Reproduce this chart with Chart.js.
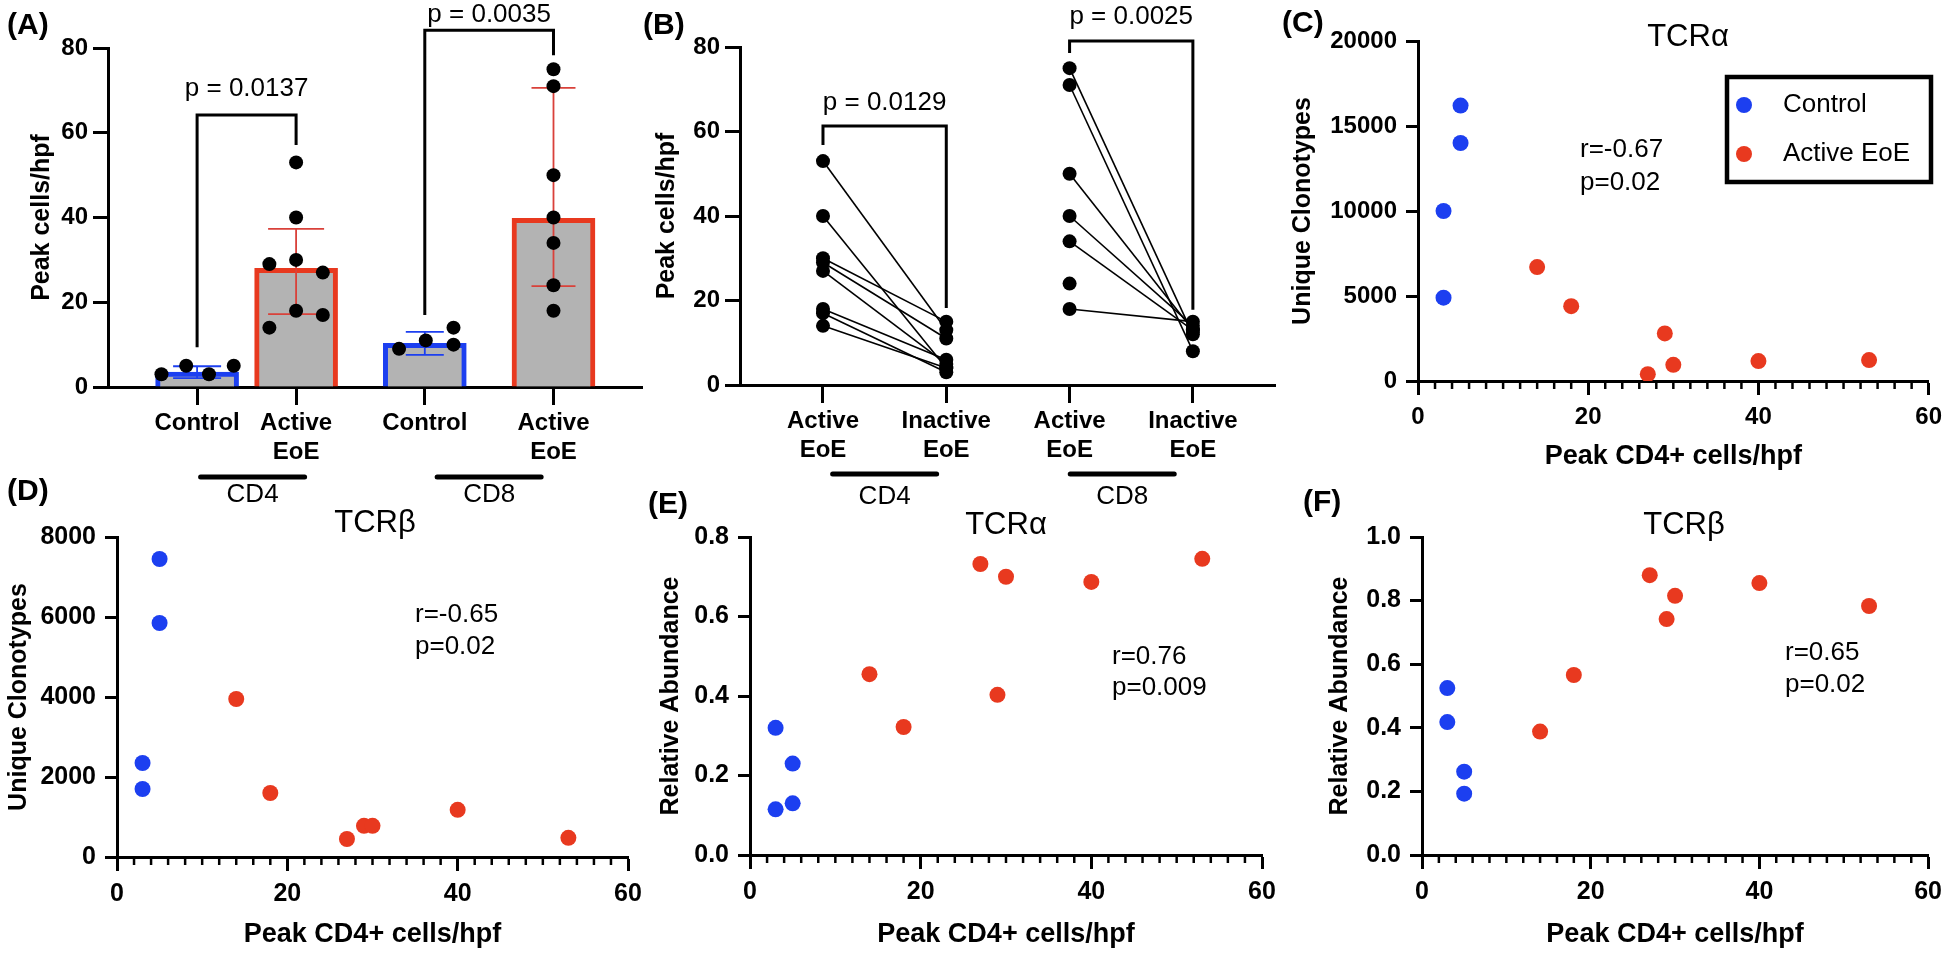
<!DOCTYPE html>
<html>
<head>
<meta charset="utf-8">
<script src="https://cdn.jsdelivr.net/npm/chart.js@4/dist/chart.umd.min.js"></script>
<style>
html, body { margin: 0; padding: 0; background: #fff; width: 1950px; height: 978px; overflow: hidden; }
canvas { position: absolute; }
</style>
</head>
<body>
<canvas id="cA"></canvas>
<canvas id="cB"></canvas>
<canvas id="cC"></canvas>
<canvas id="cD"></canvas>
<canvas id="cE"></canvas>
<canvas id="cF"></canvas>
<script>
// ================= DATA =================
// Panel A – bar chart with individual points
const barCategories = [['Control'], ['Active', 'EoE'], ['Control'], ['Active', 'EoE']];
const barGroupLabels = ['CD4', 'CD8'];
const barMeans   = [3.5, 28, 10.3, 39.8];
const barErrLow  = [2.1, 17.2, 7.6, 23.8];
const barErrHigh = [4.9, 37.3, 13.0, 70.6];
const cd4ControlPeak = [3, 5, 3, 5];
const cd4ActivePeak  = [53, 40, 29, 30, 27, 18, 17, 14];
const cd8ControlPeak = [9, 11, 14, 10];
const cd8ActivePeak  = [75, 71, 50, 40, 34, 24, 18];
const barPValues = ['p = 0.0137', 'p = 0.0035'];

// Panel B – paired active / inactive
const pairCategories = [['Active', 'EoE'], ['Inactive', 'EoE'], ['Active', 'EoE'], ['Inactive', 'EoE']];
const pairGroupLabels = ['CD4', 'CD8'];
const cd4PairActive   = [53, 40, 30, 29, 27, 18, 17, 14];
const cd4PairInactive = [13, 4, 15, 11, 5, 6, 3, 4];
const cd8PairActive   = [75, 71, 50, 40, 34, 24, 18];
const cd8PairInactive = [12, 8, 13, 14, 13, null, 15];
const pairPValues = ['p = 0.0129', 'p = 0.0025'];

// Panels C–F – scatter vs peak CD4+ cells/hpf
const seriesNames = ['Control', 'Active EoE'];
const peakControl = [3, 3, 5, 5];
const peakActive  = [14, 18, 27, 29, 30, 40, 53];
const tcraClonotypesControl = [10000, 4900, 16200, 14000];
const tcraClonotypesActive  = [6700, 4400, 400, 2800, 950, 1170, 1230];
const tcrbClonotypesControl = [2350, 1700, 7450, 5850];
const tcrbClonotypesActive  = [3950, 1600, 450, 780, 780, 1180, 480];
const tcraAbundanceControl  = [0.32, 0.115, 0.23, 0.13];
const tcraAbundanceActive   = [0.455, 0.322, 0.732, 0.403, 0.70, 0.687, 0.745];
const tcrbAbundanceControl  = [0.525, 0.418, 0.262, 0.193];
const tcrbAbundanceActive   = [0.388, 0.566, 0.88, 0.742, 0.815, 0.855, 0.783];
const corrLabels = {
  C: ['r=-0.67', 'p=0.02'],
  D: ['r=-0.65', 'p=0.02'],
  E: ['r=0.76', 'p=0.009'],
  F: ['r=0.65', 'p=0.02']
};
const xTickLabelsBar = barCategories;

// ================= STYLE / LAYOUT =================
const FAM = "'Liberation Sans', Arial, Helvetica, sans-serif";
const BLUE = '#1c3ff0';
const RED = '#e8391f';
const GREY = '#b3b3b3';
Chart.defaults.font.family = FAM;
Chart.defaults.color = '#000';
Chart.defaults.animation = false;
Chart.defaults.events = [];
Chart.defaults.plugins.legend.display = false;
Chart.defaults.plugins.tooltip.enabled = false;

// slot positions of categories along the axis (layout)
const barSlots = [1, 2, 3.3, 4.6];
const pairSlots = [1, 2, 3, 4];
// horizontal jitter of dots inside bars (layout, axis units)
const jitCd4Control = [-0.36, -0.11, 0.12, 0.37];
const jitCd4Active = [0, 0, -0.27, 0, 0.27, 0, 0.27, -0.27];
const jitCd8Control = [-0.26, 0.01, 0.29, 0.29];
const jitCd8Active = [0, 0, 0, 0, 0, 0, 0];

function setupCanvas(id, box) {
  const c = document.getElementById(id);
  c.width = box.w; c.height = box.h;
  c.style.left = box.x + 'px'; c.style.top = box.y + 'px';
  c.style.width = box.w + 'px'; c.style.height = box.h + 'px';
  return c;
}

function text(ctx, s, x, y, font, align) {
  ctx.font = font;
  ctx.textAlign = align || 'center';
  ctx.textBaseline = 'middle';
  ctx.fillStyle = '#000';
  ctx.fillText(s, x, y);
}

function makeDeco(spec) {
  return {
    id: 'deco' + spec.id,
    afterDatasetDraw(chart, args) {
      const eb = spec.errorBars;
      if (!eb || args.index !== eb.datasetIndex) return;
      const ctx = chart.ctx, xs = chart.scales.x, ys = chart.scales.y;
      ctx.save();
      eb.pos.forEach((p, i) => {
        const x = xs.getPixelForValue(p);
        const y1 = ys.getPixelForValue(eb.low[i]);
        const y2 = ys.getPixelForValue(eb.high[i]);
        const hw = eb.caps[i] / 2;
        ctx.strokeStyle = eb.colors[i];
        ctx.lineWidth = 1.8;
        ctx.beginPath();
        ctx.moveTo(x, y1); ctx.lineTo(x, y2);
        ctx.moveTo(x - hw, y1); ctx.lineTo(x + hw, y1);
        ctx.moveTo(x - hw, y2); ctx.lineTo(x + hw, y2);
        ctx.stroke();
      });
      ctx.restore();
    },
    afterDraw(chart) {
      const ctx = chart.ctx, xs = chart.scales.x, ys = chart.scales.y;
      const ox = spec.box.x, oy = spec.box.y;
      ctx.save();
      // minor ticks on x axis
      if (spec.minor) {
        const b = chart.chartArea.bottom;
        ctx.strokeStyle = '#000'; ctx.lineWidth = 2.5;
        for (let k = 0; ; k++) {
          const v = xs.min + k * spec.minor.step;
          if (v > xs.max + 1e-9) break;
          if (Math.abs(v / spec.minor.major - Math.round(v / spec.minor.major)) < 1e-9) continue;
          const x = xs.getPixelForValue(v);
          ctx.beginPath(); ctx.moveTo(x, b - 1); ctx.lineTo(x, b + spec.minor.len); ctx.stroke();
        }
      }
      // significance brackets
      (spec.brackets || []).forEach(br => {
        const x1 = xs.getPixelForValue(br.a), x2 = xs.getPixelForValue(br.b);
        const yt = ys.getPixelForValue(br.top);
        ctx.strokeStyle = '#000'; ctx.lineWidth = 3; ctx.lineJoin = 'miter'; ctx.lineCap = 'butt';
        ctx.beginPath();
        ctx.moveTo(x1, ys.getPixelForValue(br.la));
        ctx.lineTo(x1, yt); ctx.lineTo(x2, yt);
        ctx.lineTo(x2, ys.getPixelForValue(br.lb));
        ctx.stroke();
        text(ctx, br.text, (x1 + x2) / 2, yt - br.dy, '26px ' + FAM, 'center');
      });
      // group lines under categories
      (spec.groups || []).forEach(g => {
        const cx = (xs.getPixelForValue(g.a) + xs.getPixelForValue(g.b)) / 2 + (g.dx || 0);
        ctx.strokeStyle = '#000'; ctx.lineWidth = 5; ctx.lineCap = 'round';
        ctx.beginPath(); ctx.moveTo(cx - 52, g.lineY - oy); ctx.lineTo(cx + 52, g.lineY - oy); ctx.stroke();
        text(ctx, g.text, cx, g.textY - oy, '26px ' + FAM, 'center');
      });
      // free texts
      (spec.texts || []).forEach(t => {
        text(ctx, t.s, t.x - ox, t.y - oy, t.font, t.align);
      });
      // legend
      if (spec.legend) {
        const L = spec.legend;
        ctx.strokeStyle = '#000'; ctx.lineWidth = 4.5;
        ctx.strokeRect(L.x1 - ox, L.y1 - oy, L.x2 - L.x1, L.y2 - L.y1);
        chart.data.datasets.forEach((ds, i) => {
          const y = L.rows[i] - oy;
          ctx.fillStyle = ds.backgroundColor;
          ctx.beginPath(); ctx.arc(L.dotX - ox, y, 8, 0, Math.PI * 2); ctx.fill();
          text(ctx, ds.label, L.textX - ox, y, '26px ' + FAM, 'left');
        });
      }
      ctx.restore();
    }
  };
}

function yScale(box, area, o) {
  return {
    type: 'linear', min: o.min, max: o.max,
    afterFit: s => { s.width = area.l - box.x; },
    ticks: { stepSize: o.step, font: { size: o.tickSize, weight: 'bold' }, padding: o.tickPad, color: '#000',
             callback: o.fmt },
    grid: { drawOnChartArea: false, drawTicks: true, tickLength: o.tickLen, tickWidth: 3, tickColor: '#000' },
    border: { display: true, color: '#000', width: 3 },
    title: { display: true, text: o.title, color: '#000',
             font: { size: 25, weight: 'bold', lineHeight: 1.2 }, padding: { top: o.titlePad, bottom: 0 } }
  };
}

function layoutFor(box, area) {
  return { padding: { left: 0, top: area.t - box.y, right: box.x + box.w - area.r, bottom: 0 } };
}

const panelFont = 'bold 30px ' + FAM;
const tcrFont = '31px ' + FAM;
const statFont = '26px ' + FAM;

// ================= PANEL A =================
(function () {
  const box = { x: 0, y: 0, w: 660, h: 520 };
  const area = { l: 108, t: 48, r: 642, b: 387 };
  const c = setupCanvas('cA', box);
  const dots = [];
  cd4ControlPeak.forEach((v, i) => dots.push({ x: barSlots[0] + jitCd4Control[i], y: v }));
  cd4ActivePeak.forEach((v, i) => dots.push({ x: barSlots[1] + jitCd4Active[i], y: v }));
  cd8ControlPeak.forEach((v, i) => dots.push({ x: barSlots[2] + jitCd8Control[i], y: v }));
  cd8ActivePeak.forEach((v, i) => dots.push({ x: barSlots[3] + jitCd8Active[i], y: v }));
  new Chart(c, {
    type: 'bar',
    data: {
      datasets: [
        { type: 'scatter', label: 'Patients', data: dots, pointRadius: 7, pointBackgroundColor: '#000',
          pointBorderWidth: 0, order: 1 },
        { type: 'bar', label: 'Mean', data: barMeans.map((m, i) => ({ x: barSlots[i], y: m })),
          backgroundColor: GREY, borderColor: [BLUE, RED, BLUE, RED], borderWidth: 5,
          borderSkipped: 'bottom', barThickness: 83, order: 2 }
      ]
    },
    options: {
      responsive: false, devicePixelRatio: 1,
      layout: layoutFor(box, area),
      scales: {
        x: {
          type: 'linear', min: 0.1, max: 5.494, offset: false,
          afterFit: s => { s.height = box.y + box.h - area.b; },
          afterBuildTicks: s => { s.ticks = barSlots.map(v => ({ value: v })); },
          ticks: { callback: (v, i) => xTickLabelsBar[i], font: { size: 24, weight: 'bold', lineHeight: 1.2 },
                   padding: 4, maxRotation: 0, autoSkip: false, color: '#000' },
          grid: { offset: false, drawOnChartArea: false, drawTicks: true, tickLength: 18, tickWidth: 3, tickColor: '#000' },
          border: { display: true, color: '#000', width: 3 }
        },
        y: yScale(box, area, { min: 0, max: 80, step: 20, tickSize: 24, tickPad: 5, tickLen: 15,
                                title: 'Peak cells/hpf', titlePad: 27 })
      }
    },
    plugins: [makeDeco({
      id: 'A', box,
      errorBars: { datasetIndex: 1, pos: barSlots, low: barErrLow, high: barErrHigh,
                   caps: [48, 56, 38, 44], colors: [BLUE, '#d9413a', BLUE, '#d9413a'] },
      brackets: [
        { a: barSlots[0], b: barSlots[1], top: 64.2, la: 9.4, lb: 57.1, text: barPValues[0], dy: 26 },
        { a: barSlots[2], b: barSlots[3], top: 84.2, la: 17, lb: 78.3, text: barPValues[1], dy: 15 }
      ],
      groups: [
        { a: barSlots[0], b: barSlots[1], text: barGroupLabels[0], lineY: 477, textY: 495, dx: 6 },
        { a: barSlots[2], b: barSlots[3], text: barGroupLabels[1], lineY: 477, textY: 495 }
      ],
      texts: [{ s: '(A)', x: 7, y: 26, font: panelFont, align: 'left' }]
    })]
  });
})();

// ================= PANEL B =================
(function () {
  const box = { x: 630, y: 0, w: 660, h: 520 };
  const area = { l: 740, t: 47, r: 1275, b: 385 };
  const c = setupCanvas('cB', box);
  const datasets = [];
  const addPairs = (act, inact, s0, s1) => {
    act.forEach((a, i) => {
      const pts = [{ x: s0, y: a }];
      if (inact[i] !== null) pts.push({ x: s1, y: inact[i] });
      datasets.push({ label: 'pair', data: pts, showLine: true, borderColor: '#000', borderWidth: 1.6,
                      pointRadius: 7, pointBackgroundColor: '#000', pointBorderWidth: 0 });
    });
  };
  addPairs(cd4PairActive, cd4PairInactive, pairSlots[0], pairSlots[1]);
  addPairs(cd8PairActive, cd8PairInactive, pairSlots[2], pairSlots[3]);
  new Chart(c, {
    type: 'scatter',
    data: { datasets },
    options: {
      responsive: false, devicePixelRatio: 1,
      layout: layoutFor(box, area),
      scales: {
        x: {
          type: 'linear', min: 0.327, max: 4.666,
          afterFit: s => { s.height = box.y + box.h - area.b; },
          afterBuildTicks: s => { s.ticks = pairSlots.map(v => ({ value: v })); },
          ticks: { callback: (v, i) => pairCategories[i], font: { size: 24, weight: 'bold', lineHeight: 1.2 },
                   padding: 4, maxRotation: 0, autoSkip: false, color: '#000' },
          grid: { drawOnChartArea: false, drawTicks: true, tickLength: 18, tickWidth: 3, tickColor: '#000' },
          border: { display: true, color: '#000', width: 3 }
        },
        y: yScale(box, area, { min: 0, max: 80, step: 20, tickSize: 24, tickPad: 5, tickLen: 15,
                                title: 'Peak cells/hpf', titlePad: 22 })
      }
    },
    plugins: [makeDeco({
      id: 'B', box,
      brackets: [
        { a: pairSlots[0], b: pairSlots[1], top: 61.3, la: 56.8, lb: 18.2, text: pairPValues[0], dy: 23 },
        { a: pairSlots[2], b: pairSlots[3], top: 81.4, la: 78.6, lb: 17.8, text: pairPValues[1], dy: 24 }
      ],
      groups: [
        { a: pairSlots[0], b: pairSlots[1], text: pairGroupLabels[0], lineY: 474, textY: 497 },
        { a: pairSlots[2], b: pairSlots[3], text: pairGroupLabels[1], lineY: 474, textY: 497, dx: -9 }
      ],
      texts: [{ s: '(B)', x: 643, y: 26, font: panelFont, align: 'left' }]
    })]
  });
})();

// ================= SCATTER PANELS =================
function scatterPanel(cfg) {
  const { id, box, area } = cfg;
  const c = setupCanvas(id, box);
  new Chart(c, {
    type: 'scatter',
    data: {
      datasets: [
        { label: seriesNames[0], data: peakControl.map((x, i) => ({ x, y: cfg.ctrl[i] })),
          backgroundColor: BLUE, pointBackgroundColor: BLUE, pointRadius: 8, pointBorderWidth: 0 },
        { label: seriesNames[1], data: peakActive.map((x, i) => ({ x, y: cfg.act[i] })),
          backgroundColor: RED, pointBackgroundColor: RED, pointRadius: 8, pointBorderWidth: 0 }
      ]
    },
    options: {
      responsive: false, devicePixelRatio: 1,
      layout: layoutFor(box, area),
      scales: {
        x: {
          type: 'linear', min: 0, max: 60,
          afterFit: s => { s.height = box.y + box.h - area.b; },
          ticks: { stepSize: 20, font: { size: cfg.tickSize, weight: 'bold', lineHeight: 1.2 }, padding: 8,
                   maxRotation: 0, color: '#000' },
          grid: { drawOnChartArea: false, drawTicks: true, tickLength: 14, tickWidth: 3, tickColor: '#000' },
          border: { display: true, color: '#000', width: 3 },
          title: { display: true, text: 'Peak CD4+ cells/hpf', color: '#000',
                   font: { size: 27, weight: 'bold', lineHeight: 1.2 }, padding: { top: 0, bottom: cfg.xTitlePad } }
        },
        y: yScale(box, area, { min: cfg.yMin, max: cfg.yMax, step: cfg.yStep, tickSize: cfg.tickSize,
                                tickPad: 9, tickLen: 12, title: cfg.yTitle, titlePad: cfg.yTitlePad, fmt: cfg.fmt })
      }
    },
    plugins: [makeDeco({
      id, box,
      minor: { step: 2, major: 20, len: 8 },
      legend: cfg.legend,
      texts: cfg.texts
    })]
  });
}

const fmtInt = v => String(Math.round(v));
const fmt1 = v => v.toFixed(1);

scatterPanel({
  id: 'cC', box: { x: 1270, y: 0, w: 680, h: 480 }, area: { l: 1418, t: 41, r: 1929, b: 381 },
  ctrl: tcraClonotypesControl, act: tcraClonotypesActive,
  yMin: 0, yMax: 20000, yStep: 5000, fmt: fmtInt, tickSize: 24,
  yTitle: 'Unique Clonotypes', yTitlePad: 18, xTitlePad: 7,
  legend: { x1: 1727, y1: 77, x2: 1931, y2: 182, rows: [105, 154], dotX: 1744, textX: 1783 },
  texts: [
    { s: '(C)', x: 1282, y: 24, font: panelFont, align: 'left' },
    { s: 'TCRα', x: 1688, y: 37, font: tcrFont, align: 'center' },
    { s: corrLabels.C[0], x: 1580, y: 150, font: statFont, align: 'left' },
    { s: corrLabels.C[1], x: 1580, y: 183, font: statFont, align: 'left' }
  ]
});

scatterPanel({
  id: 'cD', box: { x: 0, y: 470, w: 650, h: 508 }, area: { l: 117, t: 537, r: 628, b: 857 },
  ctrl: tcrbClonotypesControl, act: tcrbClonotypesActive,
  yMin: 0, yMax: 8000, yStep: 2000, fmt: fmtInt, tickSize: 25,
  yTitle: 'Unique Clonotypes', yTitlePad: 4, xTitlePad: 27,
  texts: [
    { s: '(D)', x: 7, y: 492, font: panelFont, align: 'left' },
    { s: 'TCRβ', x: 375, y: 523, font: tcrFont, align: 'center' },
    { s: corrLabels.D[0], x: 415, y: 615, font: statFont, align: 'left' },
    { s: corrLabels.D[1], x: 415, y: 647, font: statFont, align: 'left' }
  ]
});

scatterPanel({
  id: 'cE', box: { x: 640, y: 470, w: 650, h: 508 }, area: { l: 750, t: 537, r: 1262, b: 855 },
  ctrl: tcraAbundanceControl, act: tcraAbundanceActive,
  yMin: 0, yMax: 0.8, yStep: 0.2, fmt: fmt1, tickSize: 25,
  yTitle: 'Relative Abundance', yTitlePad: 16, xTitlePad: 27,
  texts: [
    { s: '(E)', x: 648, y: 505, font: panelFont, align: 'left' },
    { s: 'TCRα', x: 1006, y: 525, font: tcrFont, align: 'center' },
    { s: corrLabels.E[0], x: 1112, y: 657, font: statFont, align: 'left' },
    { s: corrLabels.E[1], x: 1112, y: 688, font: statFont, align: 'left' }
  ]
});

scatterPanel({
  id: 'cF', box: { x: 1290, y: 470, w: 660, h: 508 }, area: { l: 1422, t: 537, r: 1933, b: 855 },
  ctrl: tcrbAbundanceControl, act: tcrbAbundanceActive,
  yMin: 0, yMax: 1.0, yStep: 0.2, fmt: fmt1, tickSize: 25,
  yTitle: 'Relative Abundance', yTitlePad: 35, xTitlePad: 27,
  texts: [
    { s: '(F)', x: 1303, y: 503, font: panelFont, align: 'left' },
    { s: 'TCRβ', x: 1684, y: 525, font: tcrFont, align: 'center' },
    { s: corrLabels.F[0], x: 1785, y: 653, font: statFont, align: 'left' },
    { s: corrLabels.F[1], x: 1785, y: 685, font: statFont, align: 'left' }
  ]
});
</script>
</body>
</html>
